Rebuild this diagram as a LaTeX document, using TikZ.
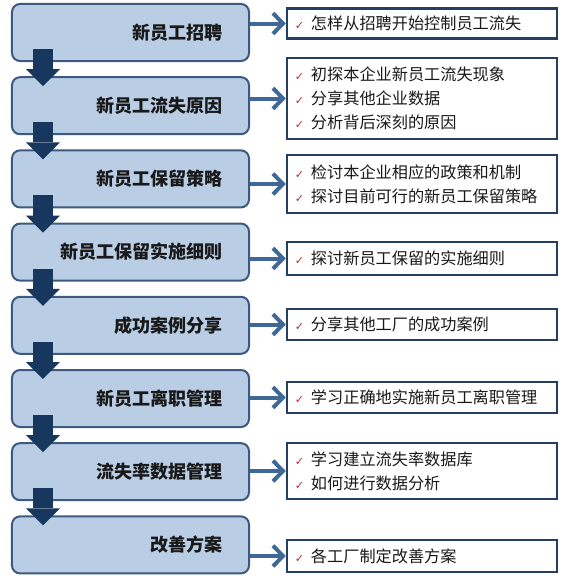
\documentclass[tikz,border=0pt]{standalone}
\usepackage{fontspec}
\usetikzlibrary{arrows.meta}
\newfontfamily\cjk{Noto Sans CJK SC}
\newfontfamily\chkfont{DejaVu Sans}
\definecolor{boxfill}{HTML}{B9CDE5}
\definecolor{boxline}{HTML}{3C5A80}
\definecolor{downarrow}{HTML}{17375E}
\definecolor{sidearrow}{HTML}{3F6896}
\definecolor{detailline}{HTML}{243F60}
\definecolor{tickred}{HTML}{C0282D}
\newcommand{\chk}{\makebox[0.48cm][l]{\chkfont\fontsize{9.5pt}{9.5pt}\selectfont\color{tickred}✓}}

\begin{document}
\begin{tikzpicture}[x=0.03cm, y=-0.03cm,
  phase/.style={draw=boxline, fill=boxfill, line width=0.06cm, rounded corners=0.24cm,
    minimum height=1.71cm, text width=5.55cm, inner xsep=0.78cm, align=right,
    text=black!90, font=\cjk\bfseries\fontsize{15.4pt}{18pt}\selectfont},
  detail/.style={draw=detailline, fill=white, line width=0.075cm, text width=7.62cm,
    inner xsep=0.24cm, inner ysep=0pt, align=left,
    text=black!90, font=\cjk\fontsize{13.8pt}{20.5pt}\selectfont},
  flow/.style={draw=downarrow, line width=0.6cm, -{Triangle[length=0.51cm, width=1.02cm, line width=0pt]}},
  link/.style={draw=sidearrow, line width=0.12cm, -{Straight Barb[length=0.3cm, width=0.62cm]}}]
\useasboundingbox (0,0) rectangle (566,586);

% stages on the left
\node[phase] (s1) at (130.5,32.5) {新员工招聘};
\node[phase] (s2) at (130.5,105.7) {新员工流失原因};
\node[phase] (s3) at (130.5,178.9) {新员工保留策略};
\node[phase] (s4) at (130.5,252.1) {新员工保留实施细则};
\node[phase] (s5) at (130.5,325.3) {成功案例分享};
\node[phase] (s6) at (130.5,398.5) {新员工离职管理};
\node[phase] (s7) at (130.5,471.7) {流失率数据管理};
\node[phase] (s8) at (130.5,544.9) {改善方案};

% details on the right
\node[detail, minimum height=0.9cm] (d1) at (422,23.5) {\chk{}怎样从招聘开始控制员工流失};
\node[detail, minimum height=2.43cm] (d2) at (422,98.5) {\chk{}初探本企业新员工流失现象\\\chk{}分享其他企业数据\\\chk{}分析背后深刻的原因};
\node[detail, minimum height=1.74cm] (d3) at (422,184) {\chk{}检讨本企业相应的政策和机制\\\chk{}探讨目前可行的新员工保留策略};
\node[detail, minimum height=0.99cm] (d4) at (422,258.5) {\chk{}探讨新员工保留的实施细则};
\node[detail, minimum height=0.93cm] (d5) at (422,324.5) {\chk{}分享其他工厂的成功案例};
\node[detail, minimum height=0.93cm] (d6) at (422,397.5) {\chk{}学习正确地实施新员工离职管理};
\node[detail, minimum height=1.68cm] (d7) at (422,471) {\chk{}学习建立流失率数据库\\\chk{}如何进行数据分析};
\node[detail, minimum height=0.96cm] (d8) at (422,556) {\chk{}各工厂制定改善方案};

% side arrows
\draw[link] (s1.east |- d1.west) -- (d1.west);
\draw[link] (s2.east |- d2.west) -- (d2.west);
\draw[link] (s3.east |- d3.west) -- (d3.west);
\draw[link] (s4.east |- d4.west) -- (d4.west);
\draw[link] (s5.east |- d5.west) -- (d5.west);
\draw[link] (s6.east |- d6.west) -- (d6.west);
\draw[link] (s7.east |- d7.west) -- (d7.west);
\draw[link] (s8.east |- d8.west) -- (d8.west);

% down arrows
\draw[flow] ([shift={(32,-13)}]s1.south west) -- ([shift={(32,10)}]s2.north west);
\draw[flow] ([shift={(32,-13)}]s2.south west) -- ([shift={(32,10)}]s3.north west);
\draw[flow] ([shift={(32,-13)}]s3.south west) -- ([shift={(32,10)}]s4.north west);
\draw[flow] ([shift={(32,-13)}]s4.south west) -- ([shift={(32,10)}]s5.north west);
\draw[flow] ([shift={(32,-13)}]s5.south west) -- ([shift={(32,10)}]s6.north west);
\draw[flow] ([shift={(32,-13)}]s6.south west) -- ([shift={(32,10)}]s7.north west);
\draw[flow] ([shift={(32,-13)}]s7.south west) -- ([shift={(32,10)}]s8.north west);
\end{tikzpicture}
\end{document}
